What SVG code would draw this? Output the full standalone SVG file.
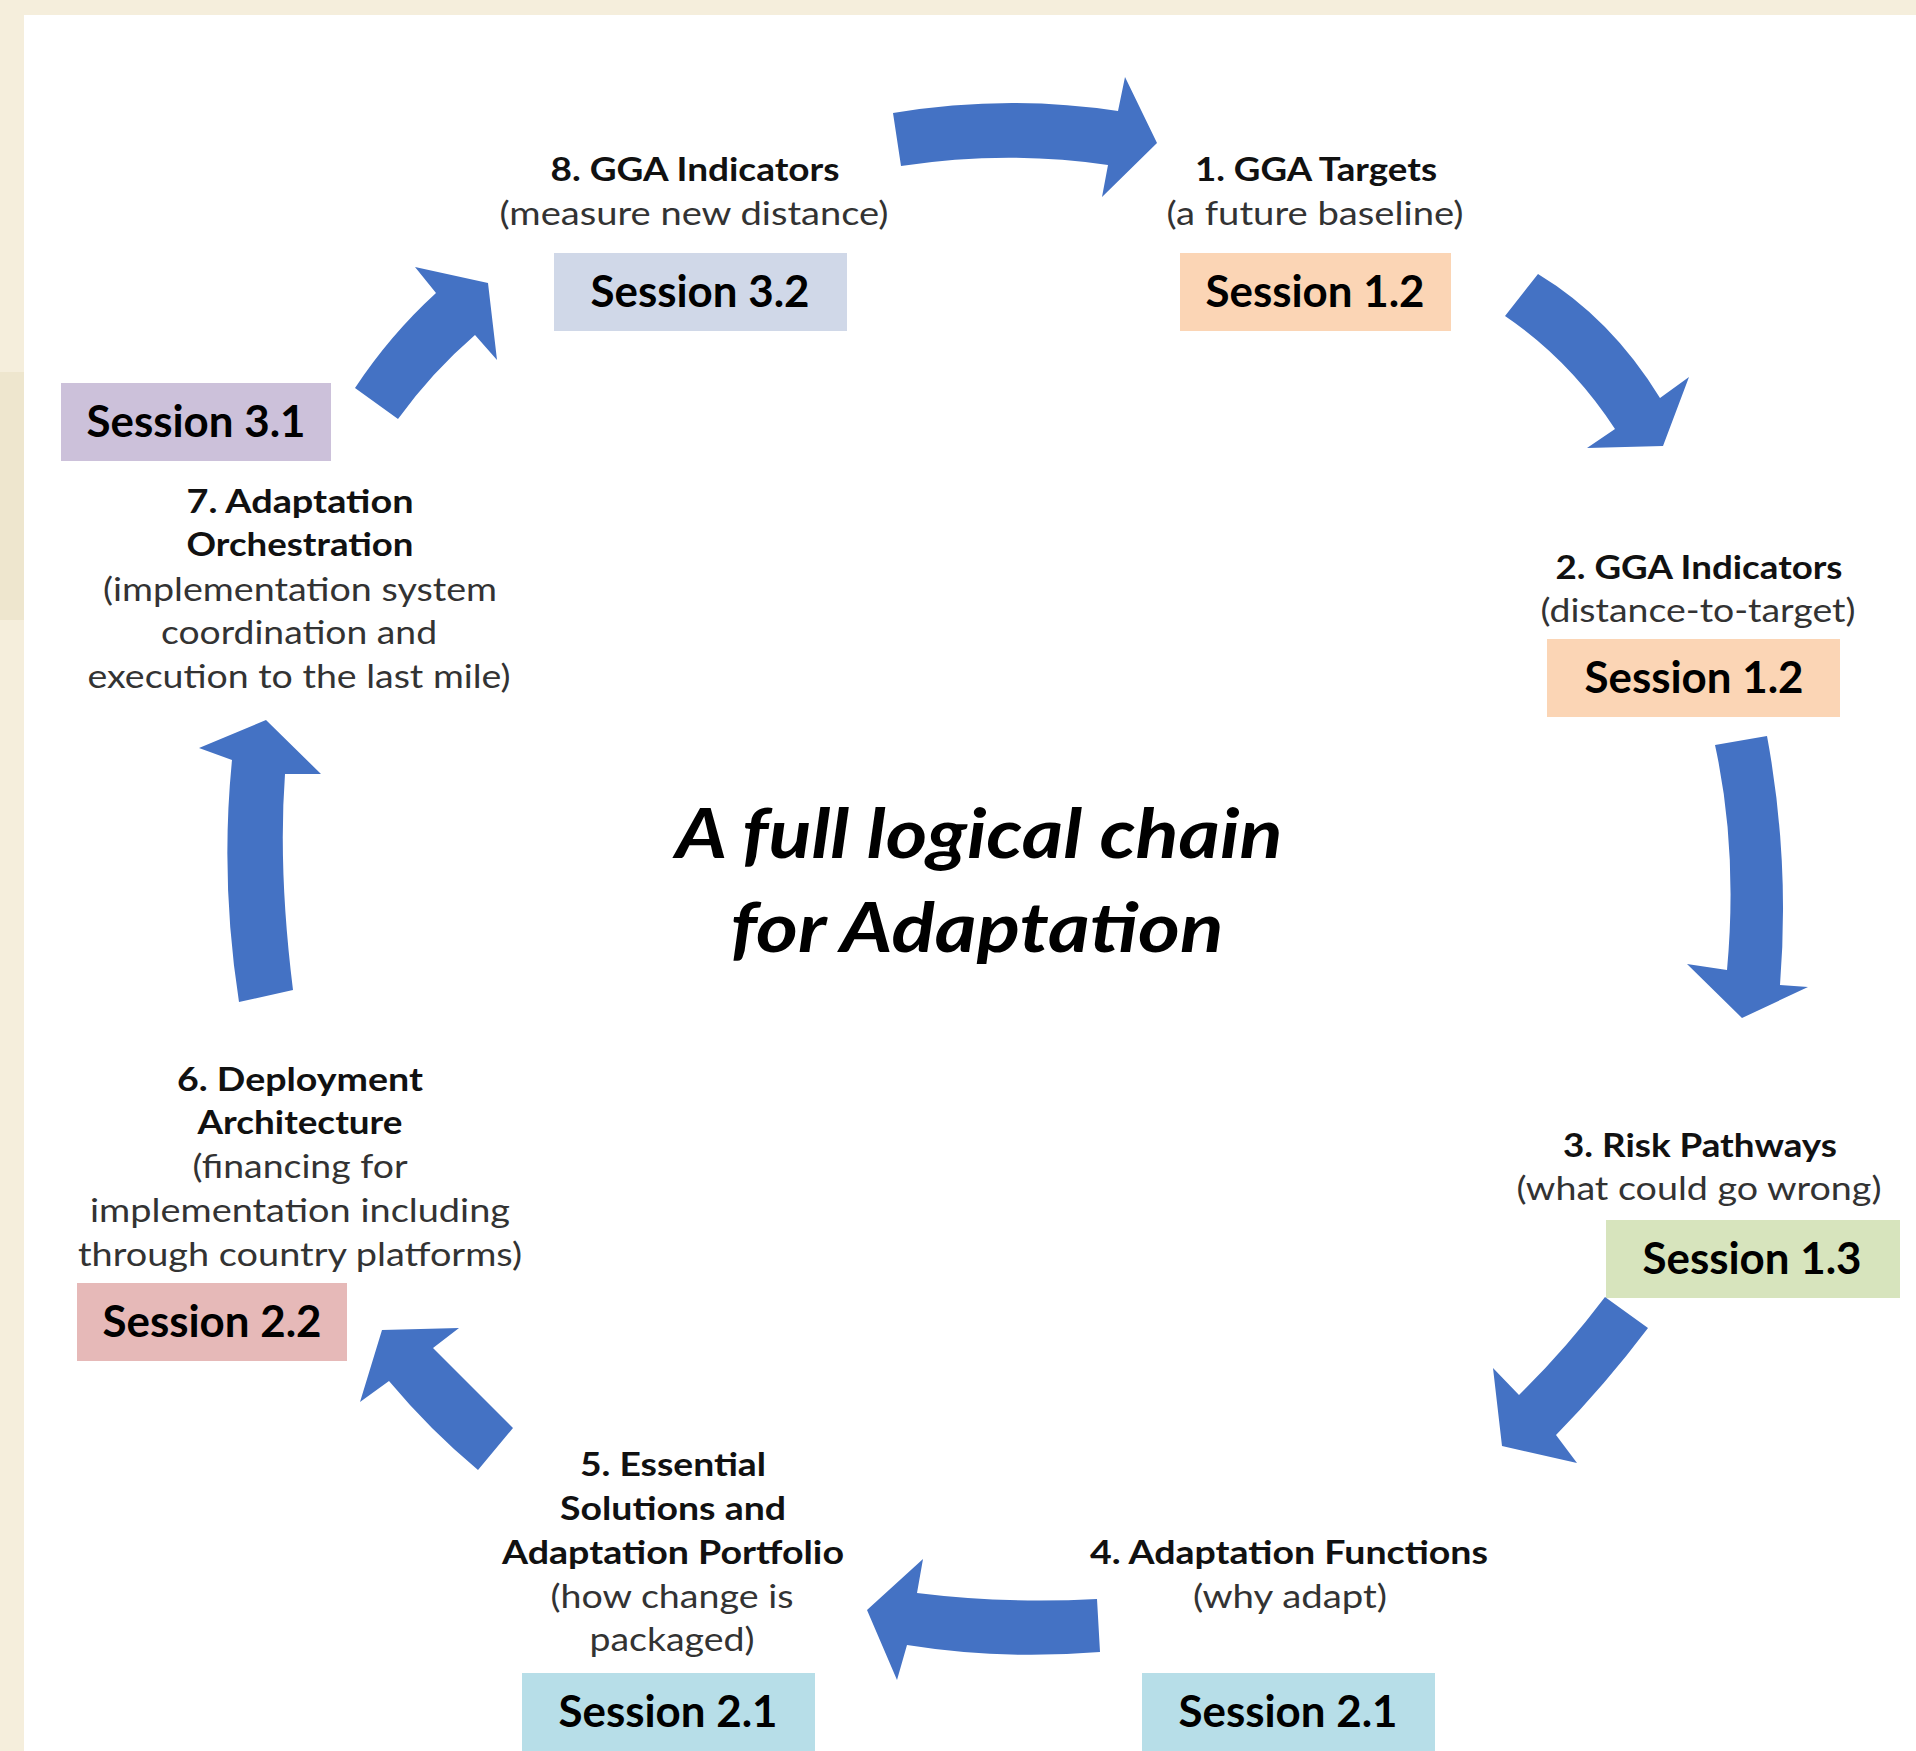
<svg xmlns="http://www.w3.org/2000/svg" width="1916" height="1751" viewBox="0 0 1916 1751">
  <style>
    .t { font-family: Lato, "Open Sans", "Liberation Sans", sans-serif; font-size: 33px; text-anchor: middle; }
    .b { font-weight: bold; fill: #111; }
    .r { font-weight: normal; fill: #333; }
    .s { font-family: Lato, "Open Sans", "Liberation Sans", sans-serif; font-size: 44px; font-weight: bold; text-anchor: middle; fill: #000; }
    .title { font-family: Lato, "Open Sans", "Liberation Sans", sans-serif; font-size: 68px; font-weight: bold; font-style: italic; text-anchor: middle; fill: #000; }
    .arrow { fill: #4472C4; }
  </style>
  <!-- background -->
  <rect x="0" y="0" width="1916" height="1751" fill="#F5EEDC"/>
  <rect x="0" y="372" width="24" height="248" fill="#EEE6CE"/>
  <rect x="24" y="15" width="1892" height="1736" fill="#FFFFFF"/>

  <g id="title">
    <text class="title" x="979" y="858" textLength="607" lengthAdjust="spacingAndGlyphs">A full logical chain</text>
    <text class="title" x="977" y="952" textLength="493" lengthAdjust="spacingAndGlyphs">for Adaptation</text>
  </g>

  <g id="node8">
    <text class="t b" x="695" y="181" textLength="289" lengthAdjust="spacingAndGlyphs">8. GGA Indicators</text>
    <text class="t r" x="694" y="225" textLength="389" lengthAdjust="spacingAndGlyphs">(measure new distance)</text>
    <rect x="554" y="253" width="293" height="78" fill="#D0D8E8"/>
    <text class="s" x="700" y="307" textLength="219" lengthAdjust="spacingAndGlyphs">Session 3.2</text>
  </g>

  <g id="node1">
    <text class="t b" x="1316" y="181" textLength="242" lengthAdjust="spacingAndGlyphs">1. GGA Targets</text>
    <text class="t r" x="1315" y="225" textLength="297" lengthAdjust="spacingAndGlyphs">(a future baseline)</text>
    <rect x="1180" y="253" width="271" height="78" fill="#FBD5B5"/>
    <text class="s" x="1315" y="307" textLength="219" lengthAdjust="spacingAndGlyphs">Session 1.2</text>
  </g>

  <g id="node2">
    <text class="t b" x="1699" y="579" textLength="287" lengthAdjust="spacingAndGlyphs">2. GGA Indicators</text>
    <text class="t r" x="1698" y="622" textLength="315" lengthAdjust="spacingAndGlyphs">(distance-to-target)</text>
    <rect x="1547" y="639" width="293" height="78" fill="#FBD5B5"/>
    <text class="s" x="1694" y="693" textLength="219" lengthAdjust="spacingAndGlyphs">Session 1.2</text>
  </g>

  <g id="node3">
    <text class="t b" x="1700" y="1157" textLength="274" lengthAdjust="spacingAndGlyphs">3. Risk Pathways</text>
    <text class="t r" x="1699" y="1200" textLength="365" lengthAdjust="spacingAndGlyphs">(what could go wrong)</text>
    <rect x="1606" y="1220" width="294" height="78" fill="#D7E4BD"/>
    <text class="s" x="1752" y="1274" textLength="219" lengthAdjust="spacingAndGlyphs">Session 1.3</text>
  </g>

  <g id="node4">
    <text class="t b" x="1289" y="1564" textLength="398" lengthAdjust="spacingAndGlyphs">4. Adaptation Functions</text>
    <text class="t r" x="1290" y="1608" textLength="194" lengthAdjust="spacingAndGlyphs">(why adapt)</text>
    <rect x="1142" y="1673" width="293" height="78" fill="#B7DEE8"/>
    <text class="s" x="1288" y="1727" textLength="219" lengthAdjust="spacingAndGlyphs">Session 2.1</text>
  </g>

  <g id="node5">
    <text class="t b" x="673" y="1476" textLength="186" lengthAdjust="spacingAndGlyphs">5. Essential</text>
    <text class="t b" x="673" y="1520" textLength="226" lengthAdjust="spacingAndGlyphs">Solutions and</text>
    <text class="t b" x="673" y="1564" textLength="342" lengthAdjust="spacingAndGlyphs">Adaptation Portfolio</text>
    <text class="t r" x="672" y="1608" textLength="243" lengthAdjust="spacingAndGlyphs">(how change is</text>
    <text class="t r" x="672" y="1651" textLength="165" lengthAdjust="spacingAndGlyphs">packaged)</text>
    <rect x="522" y="1673" width="293" height="78" fill="#B7DEE8"/>
    <text class="s" x="668" y="1727" textLength="219" lengthAdjust="spacingAndGlyphs">Session 2.1</text>
  </g>

  <g id="node6">
    <text class="t b" x="300" y="1091" textLength="246" lengthAdjust="spacingAndGlyphs">6. Deployment</text>
    <text class="t b" x="300" y="1134" textLength="205" lengthAdjust="spacingAndGlyphs">Architecture</text>
    <text class="t r" x="300" y="1178" textLength="215" lengthAdjust="spacingAndGlyphs">(financing for</text>
    <text class="t r" x="300" y="1222" textLength="420" lengthAdjust="spacingAndGlyphs">implementation including</text>
    <text class="t r" x="300" y="1266" textLength="444" lengthAdjust="spacingAndGlyphs">through country platforms)</text>
    <rect x="77" y="1283" width="270" height="78" fill="#E6B9B8"/>
    <text class="s" x="212" y="1337" textLength="219" lengthAdjust="spacingAndGlyphs">Session 2.2</text>
  </g>

  <g id="node7">
    <rect x="61" y="383" width="270" height="78" fill="#CCC1DA"/>
    <text class="s" x="196" y="437" textLength="219" lengthAdjust="spacingAndGlyphs">Session 3.1</text>
    <text class="t b" x="300" y="513" textLength="227" lengthAdjust="spacingAndGlyphs">7. Adaptation</text>
    <text class="t b" x="300" y="556" textLength="227" lengthAdjust="spacingAndGlyphs">Orchestration</text>
    <text class="t r" x="300" y="601" textLength="394" lengthAdjust="spacingAndGlyphs">(implementation system</text>
    <text class="t r" x="299" y="644" textLength="276" lengthAdjust="spacingAndGlyphs">coordination and</text>
    <text class="t r" x="299" y="688" textLength="423" lengthAdjust="spacingAndGlyphs">execution to the last mile)</text>
  </g>

  <g id="connectors">
    <path class="arrow" d="M893,113 Q1006,94 1118,111 L1125,77 L1157,143 L1102,197 L1108,165 Q1006,150 901,166 Z"/>
    <path class="arrow" d="M1538,274 Q1611,318 1660,398 L1689,377 L1663,446 L1587,448 L1615,429 Q1570,360 1505,316 Z"/>
    <path class="arrow" d="M1715,745 L1767,736 Q1790,860 1780,985 L1808,987 L1742,1018 L1687,964 L1727,970 Q1738,850 1715,745 Z"/>
    <path class="arrow" d="M1605,1297 L1648,1328 Q1605,1385 1556,1435 L1577,1463 L1502,1446 L1493,1368 L1519,1395 Q1565,1350 1605,1297 Z"/>
    <path class="arrow" d="M1097,1599 L1100,1652 Q1000,1660 907,1645 L897,1680 L867,1610 L923,1559 L917,1593 Q1005,1604 1097,1599 Z"/>
    <path class="arrow" d="M513,1428 L478,1470 Q430,1430 389,1381 L360,1402 L382,1330 L459,1328 L433,1348 Q470,1385 513,1428 Z"/>
    <path class="arrow" d="M239,1002 L293,990 Q278,870 285,774 L321,774 L266,720 L199,748 L232,760 Q220,880 239,1002 Z"/>
    <path class="arrow" d="M355,388 L398,419 Q432,372 475,335 L497,360 L488,283 L415,267 L436,293 Q390,335 355,388 Z"/>
  </g>
</svg>
